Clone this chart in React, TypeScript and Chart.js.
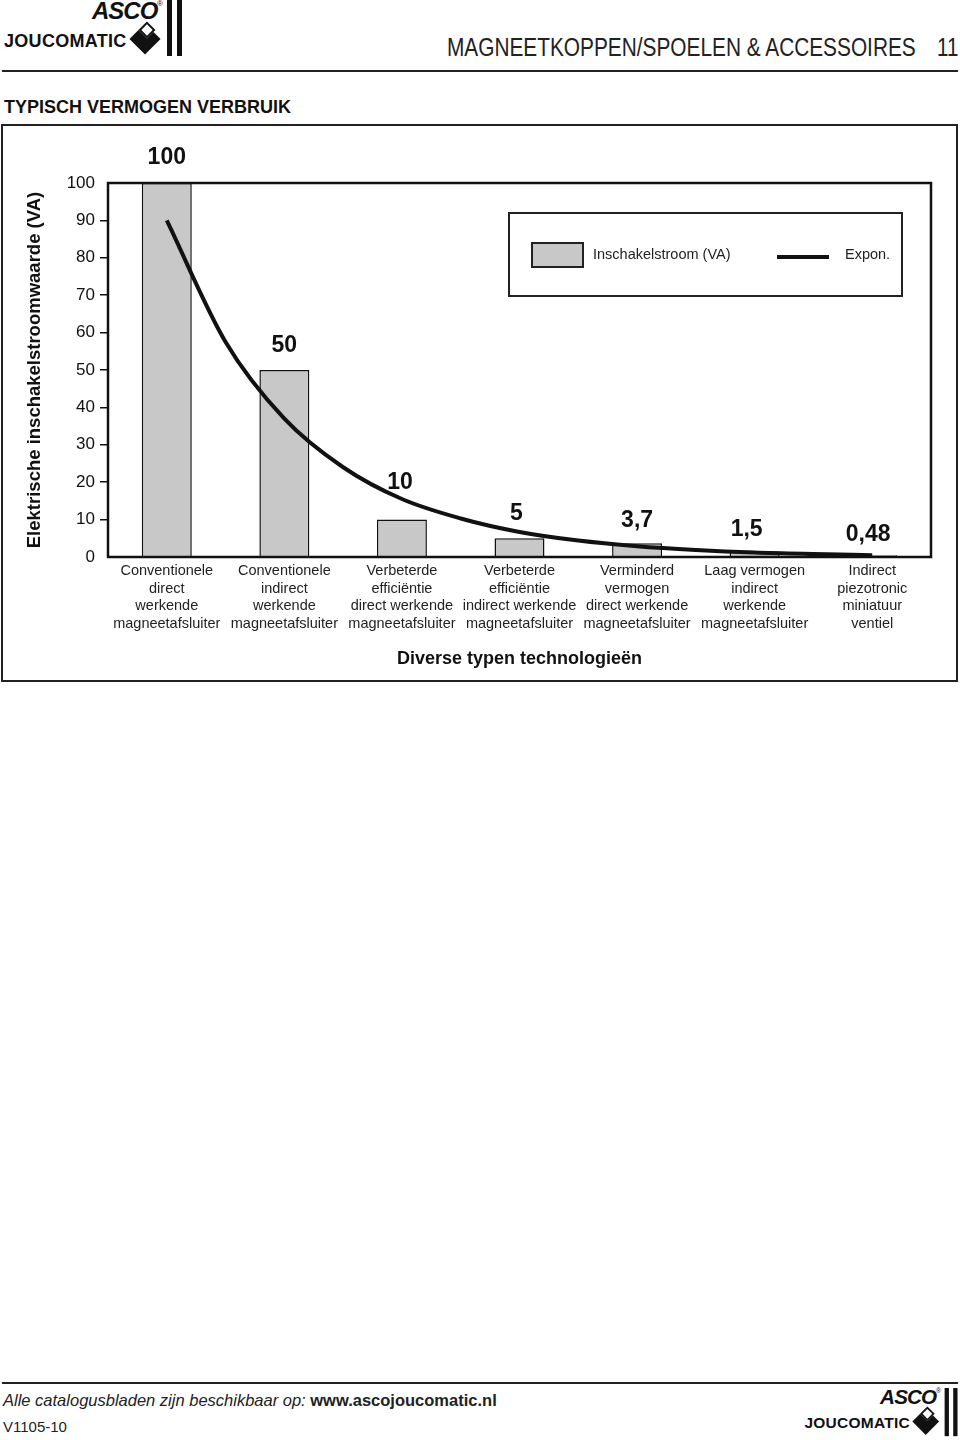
import React, { useEffect, useRef } from "react";
import { Chart, registerables } from "chart.js";

Chart.register(...registerables);

// ---------- data ----------
const categories: string[][] = [
  ["Conventionele", "direct", "werkende", "magneetafsluiter"],
  ["Conventionele", "indirect", "werkende", "magneetafsluiter"],
  ["Verbeterde", "efficiëntie", "direct werkende", "magneetafsluiter"],
  ["Verbeterde", "efficiëntie", "indirect werkende", "magneetafsluiter"],
  ["Verminderd", "vermogen", "direct werkende", "magneetafsluiter"],
  ["Laag vermogen", "indirect", "werkende", "magneetafsluiter"],
  ["Indirect", "piezotronic", "miniatuur", "ventiel"],
];
const inrushVA = [100, 50, 10, 5, 3.7, 1.5, 0.48];
const valueLabels = ["100", "50", "10", "5", "3,7", "1,5", "0,48"];
// "Expon." trend line at category positions (0 = first category)
const trendPos = [0, 0.5, 1, 1.5, 2, 2.5, 3, 3.5, 4, 4.5, 5, 5.5, 6];
const trendVA = [90, 57.5, 37, 24, 15.5, 10.3, 6.7, 4.4, 2.9, 1.9, 1.2, 0.8, 0.5];
const yMin = 0;
const yMax = 100;
const yStep = 10;
const seriesNames = ["Inschakelstroom (VA)", "Expon."];
const yAxisTitle = "Elektrische inschakelstroomwaarde (VA)";
const xAxisTitle = "Diverse typen technologieën";

const FONT = "'Liberation Sans', Arial, Helvetica, sans-serif";
const BAR_FILL = "#c8c8c8";
const INK = "#111";

function Logo({ left, top, scale = 1 }: { left: number; top: number; scale?: number }) {
  return (
    <div
      style={{
        position: "absolute",
        left,
        top,
        width: 184,
        height: 56,
        transform: `scale(${scale})`,
        transformOrigin: "top left",
        fontFamily: FONT,
        color: INK,
      }}
    >
      <div
        style={{
          position: "absolute",
          left: 92,
          top: -2,
          fontWeight: 900,
          fontStyle: "italic",
          fontSize: 24,
          letterSpacing: -1,
          lineHeight: "26px",
        }}
      >
        ASCO
      </div>
      <div style={{ position: "absolute", left: 157, top: 0, fontSize: 8, lineHeight: "8px" }}>®</div>
      <div
        style={{
          position: "absolute",
          left: 4,
          top: 31,
          fontWeight: 700,
          fontSize: 18,
          letterSpacing: 0.3,
          lineHeight: "20px",
        }}
      >
        JOUCOMATIC
      </div>
      <div
        style={{
          position: "absolute",
          left: 134,
          top: 28,
          width: 22,
          height: 22,
          background: INK,
          transform: "rotate(45deg)",
        }}
      />
      <div
        style={{
          position: "absolute",
          left: 141,
          top: 24,
          width: 8,
          height: 8,
          background: "#fff",
          transform: "rotate(45deg)",
          border: `2px solid ${INK}`,
        }}
      />
      <div style={{ position: "absolute", left: 167, top: 0, width: 5, height: 56, background: INK }} />
      <div style={{ position: "absolute", left: 177, top: 0, width: 5, height: 56, background: INK }} />
    </div>
  );
}

export default function App() {
  const canvasRef = useRef<HTMLCanvasElement>(null);

  useEffect(() => {
    const canvas = canvasRef.current;
    if (!canvas) return;

    const overlay = {
      id: "overlay",
      afterDatasetsDraw(chart: any) {
        const { ctx, chartArea: a } = chart;
        ctx.save();
        // plot frame
        ctx.strokeStyle = INK;
        ctx.lineWidth = 2.5;
        ctx.strokeRect(a.left, a.top, a.right - a.left, a.bottom - a.top);

        // value labels above bars
        const lifts = [25, 24, 37, 25, 23, 22, 21];
        const nudges = [0, 0, -2, -3, 0, -8, -4];
        const meta = chart.getDatasetMeta(1);
        ctx.font = `bold 23px ${FONT}`;
        ctx.fillStyle = INK;
        ctx.textAlign = "center";
        ctx.textBaseline = "middle";
        meta.data.forEach((el: any, i: number) => {
          ctx.fillText(valueLabels[i], el.x + nudges[i], el.y - lifts[i]);
        });

        // legend box
        ctx.lineWidth = 2;
        ctx.strokeStyle = "#222";
        ctx.strokeRect(509, 88, 393, 83);
        ctx.fillStyle = BAR_FILL;
        ctx.fillRect(532, 118, 51, 24);
        ctx.strokeRect(532, 118, 51, 24);
        ctx.font = `14.5px ${FONT}`;
        ctx.fillStyle = "#222";
        ctx.textAlign = "left";
        ctx.textBaseline = "middle";
        ctx.fillText(seriesNames[0], 593, 130);
        ctx.beginPath();
        ctx.lineWidth = 4;
        ctx.strokeStyle = INK;
        ctx.moveTo(777, 132);
        ctx.lineTo(829, 132);
        ctx.stroke();
        ctx.fillText(seriesNames[1], 845, 130);
        ctx.restore();
      },
    };

    const chart = new Chart(canvas, {
      type: "bar",
      data: {
        labels: categories,
        datasets: [
          {
            type: "line",
            label: seriesNames[1],
            data: trendPos.map((p, i) => ({ x: p, y: trendVA[i] })),
            xAxisID: "xl",
            yAxisID: "y",
            borderColor: INK,
            borderWidth: 4,
            pointRadius: 0,
            fill: false,
            cubicInterpolationMode: "monotone",
            order: 0,
          } as any,
          {
            type: "bar",
            label: seriesNames[0],
            data: inrushVA,
            xAxisID: "x",
            yAxisID: "y",
            grouped: false,
            backgroundColor: BAR_FILL,
            borderColor: INK,
            borderWidth: 1.5,
            barPercentage: 0.425,
            categoryPercentage: 1,
            order: 1,
          } as any,
        ],
      },
      options: {
        responsive: false,
        animation: false,
        events: [],
        layout: { padding: { top: 58, right: 29, left: 0, bottom: 0 } },
        plugins: {
          legend: { display: false },
          tooltip: { enabled: false },
        },
        scales: {
          x: {
            type: "category",
            position: "bottom",
            grid: { display: false, drawTicks: false },
            border: { display: false },
            ticks: {
              autoSkip: false,
              maxRotation: 0,
              minRotation: 0,
              padding: 5,
              color: "#222",
              font: { family: FONT, size: 14.5, lineHeight: 1.22 },
            },
            title: {
              display: true,
              text: xAxisTitle,
              color: INK,
              font: { family: FONT, size: 18, weight: "bold" },
              padding: { top: 0, bottom: 12 },
            },
            afterFit(scale: any) {
              scale.height = 125;
            },
          },
          xl: {
            type: "linear",
            axis: "x",
            position: "bottom",
            display: false,
            offset: false,
            min: -0.5,
            max: categories.length - 0.5,
          },
          y: {
            min: yMin,
            max: yMax,
            grid: {
              display: true,
              drawOnChartArea: false,
              drawTicks: true,
              tickLength: 8,
              lineWidth: 1.5,
              color: (c: any) =>
                c.tick && (c.tick.value === yMin || c.tick.value === yMax) ? "rgba(0,0,0,0)" : INK,
            },
            border: { display: false },
            ticks: {
              stepSize: yStep,
              padding: 5,
              color: INK,
              font: { family: FONT, size: 17 },
            },
            title: {
              display: true,
              text: yAxisTitle,
              color: INK,
              font: { family: FONT, size: 18.5, weight: "bold" },
              padding: { top: 24, bottom: 0 },
            },
            afterFit(scale: any) {
              scale.width = 108;
            },
          },
        },
      } as any,
      plugins: [overlay],
    });

    return () => chart.destroy();
  }, []);

  return (
    <div
      style={{
        position: "absolute",
        left: 0,
        top: 0,
        width: 960,
        height: 1440,
        background: "#fff",
        fontFamily: FONT,
        color: INK,
        overflow: "hidden",
      }}
    >
      <Logo left={0} top={0} />
      <div
        style={{
          position: "absolute",
          left: 447,
          top: 33,
          fontSize: 25,
          lineHeight: "28px",
          color: "#222",
          whiteSpace: "nowrap",
          transform: "scaleX(0.833)",
          transformOrigin: "left top",
        }}
      >
        MAGNEETKOPPEN/SPOELEN &amp; ACCESSOIRES
      </div>
      <div
        style={{
          position: "absolute",
          left: 937,
          top: 33,
          fontSize: 25,
          lineHeight: "28px",
          color: "#222",
          transform: "scaleX(0.82)",
          transformOrigin: "left top",
        }}
      >
        11
      </div>
      <div style={{ position: "absolute", left: 2, top: 70, width: 956, height: 2, background: "#222" }} />
      <div
        style={{
          position: "absolute",
          left: 4,
          top: 96,
          fontSize: 18,
          fontWeight: 700,
          lineHeight: "22px",
          whiteSpace: "nowrap",
        }}
      >
        TYPISCH VERMOGEN VERBRUIK
      </div>

      <div
        style={{
          position: "absolute",
          left: 1,
          top: 124,
          width: 957,
          height: 558,
          boxSizing: "border-box",
          border: "2px solid #222",
        }}
      />
      <canvas
        ref={canvasRef}
        width={960}
        height={557}
        style={{ position: "absolute", left: 0, top: 125, width: 960, height: 557, display: "block" }}
      />

      <div style={{ position: "absolute", left: 2, top: 1382, width: 956, height: 2, background: "#222" }} />
      <div
        style={{
          position: "absolute",
          left: 3,
          top: 1390,
          fontSize: 16.5,
          lineHeight: "20px",
          whiteSpace: "nowrap",
          color: "#222",
        }}
      >
        <span style={{ fontStyle: "italic" }}>Alle catalogusbladen zijn beschikbaar op: </span>
        <span style={{ fontWeight: 700 }}>www.ascojoucomatic.nl</span>
      </div>
      <div
        style={{ position: "absolute", left: 3, top: 1417, fontSize: 15, lineHeight: "20px", color: "#222" }}
      >
        V1105-10
      </div>
      <Logo left={801} top={1388} scale={0.86} />
    </div>
  );
}
